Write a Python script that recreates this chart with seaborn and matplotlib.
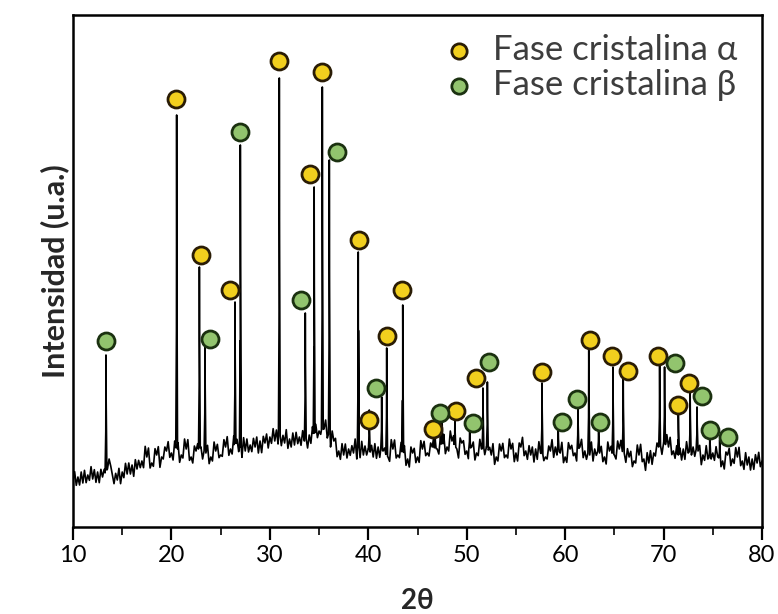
import numpy as np
import pandas as pd
import matplotlib
matplotlib.use("Agg")
import matplotlib.pyplot as plt
import seaborn as sns
from matplotlib.ticker import MultipleLocator

# ---- data ----
base_x = [10.0 + 0.5 * i for i in range(141)]
base_y = [46, 50, 44, 52, 48, 55, 50, 58, 52, 47, 55, 53, 62, 58, 66, 70, 64, 72, 70, 76,
          74, 80, 72, 78, 70, 76, 80, 74, 70, 76, 72, 80, 78, 84, 80, 76, 82, 80, 86, 84,
          90, 86, 92, 84, 88, 82, 90, 86, 92, 94, 96, 98, 92, 86, 76, 72, 78, 74, 80, 72,
          78, 70, 80, 76, 70, 78, 72, 76, 68, 74, 70, 78, 74, 80, 78, 84, 80, 86, 78, 84,
          76, 80, 74, 78, 80, 72, 70, 76, 72, 78, 74, 80, 76, 72, 78, 74, 70, 76, 80, 74,
          70, 78, 74, 80, 76, 72, 78, 74, 70, 76, 72, 78, 74, 70, 66, 72, 68, 64, 74, 80,
          84, 80, 76, 72, 78, 74, 80, 76, 72, 68, 74, 70, 66, 72, 68, 70, 66, 62, 68, 64, 66]
# high-frequency wiggle between baseline points (estimated, offsets at +1/3 and +2/3 step)
wig_a = [8, -6, 10, -4, 7, -9, 5, 12, -7, 9, -5, 8, -10, 6, -8, 11, -6, 9, -4, 10,
         -9, 7, -5, 12, -8, 6, -10, 9, -6, 8, -4, 11, -7, 5, -9, 10, -6, 8, -11, 7,
         -5, 9, -8, 12, -6, 10, -7, 5, -9, 8, -4, 11, -10, 6, -7, 9, -5, 12, -8, 7,
         -6, 10, -9, 5, -7, 11, -4, 8, -10, 6, -8, 9, -5, 12, -7, 10, -6, 8, -11, 5,
         -9, 7, -4, 10, -8, 12, -6, 9, -5, 7, -10, 11, -7, 6, -9, 8, -4, 10, -6, 12,
         -8, 5, -10, 9, -7, 11, -5, 8, -9, 6, -6, 10, -8, 7, -4, 12, -10, 9, -5, 8,
         -7, 11, -6, 5, -9, 10, -8, 7, -4, 12, -6, 9, -10, 8, -5, 11, -7, 6, -9, 10]
wig_b = [-7, 9, -5, 11, -8, 6, -10, 7, 5, -9, 10, -6, 8, -4, 12, -7, 9, -11, 6, -5,
         8, -10, 12, -6, 7, -9, 5, -8, 11, -4, 10, -7, 9, -6, 12, -5, 8, -10, 6, -9,
         11, -7, 5, -8, 10, -4, 9, -11, 7, -6, 12, -5, 8, -9, 10, -7, 6, -10, 11, -4,
         9, -8, 7, -6, 12, -5, 10, -9, 8, -7, 11, -4, 6, -10, 9, -8, 12, -5, 7, -6,
         10, -9, 11, -7, 5, -8, 9, -4, 12, -10, 6, -6, 8, -11, 10, -5, 7, -9, 11, -7,
         9, -4, 12, -8, 6, -10, 8, -6, 11, -5, 10, -9, 7, -7, 12, -4, 9, -8, 6, -10,
         11, -5, 8, -9, 10, -6, 7, -11, 12, -4, 9, -7, 5, -8, 10, -6, 11, -9, 7, -5]

peak_pos = [13.35, 20.53, 22.84, 23.41, 26.46, 27.0, 30.96, 33.6, 34.5, 35.33, 36.04,
            38.98, 40.1, 41.36, 41.87, 43.5, 46.8, 47.5, 48.8, 50.3, 51.65, 52.1, 57.65,
            59.3, 61.3, 62.4, 63.4, 64.86, 65.9, 69.6, 70.1, 71.5, 72.7, 73.4, 74.7, 75.7]
peak_top = [172, 412, 260, 184, 225, 382, 449, 214, 340, 440, 367,
            275, 117, 130, 179, 222, 90, 107, 107, 100, 139, 145, 144,
            97, 120, 177, 104, 160, 150, 165, 160, 114, 134, 120, 94, 87]

alpha_x = [20.46, 23.0, 25.95, 30.93, 34.08, 35.30, 39.06, 41.9, 40.07, 43.42,
           46.57, 48.91, 50.94, 57.65, 62.52, 64.76, 66.38, 69.43, 71.46, 72.58]
alpha_y = [428, 272, 237, 466, 353, 455, 287, 191, 107, 237,
           98, 116, 149, 155, 187, 171, 156, 171, 122, 144]

beta_x = [13.35, 23.92, 26.97, 33.16, 36.82, 40.78, 47.29, 50.64, 52.26, 59.68,
          61.2, 63.54, 71.16, 73.9, 74.71, 76.54]
beta_y = [186, 188, 395, 227, 375, 139, 114, 104, 165, 105,
          128, 105, 164, 131, 97, 90]

phase_labels = ["Fase cristalina α", "Fase cristalina β"]
xticks = [10, 20, 30, 40, 50, 60, 70, 80]

# ---- build pattern (baseline + wiggles + spikes) ----
xs = list(base_x)
ys = list(base_y)
for i in range(len(base_x) - 1):
    x0, x1 = base_x[i], base_x[i + 1]
    y0, y1 = base_y[i], base_y[i + 1]
    for frac, w in ((1 / 3, wig_a[i]), (2 / 3, wig_b[i])):
        xs.append(x0 + frac * (x1 - x0))
        ys.append(y0 + frac * (y1 - y0) + w)
for p, t in zip(peak_pos, peak_top):
    b_l = float(np.interp(p - 0.09, base_x, base_y))
    b_r = float(np.interp(p + 0.09, base_x, base_y))
    xs += [p - 0.09, p - 0.02, p, p + 0.02, p + 0.09]
    ys += [b_l, b_l + 0.35 * (t - b_l), t, b_r + 0.6 * (t - b_r), b_r]
order = np.argsort(xs, kind="stable")
px = np.array(xs)[order]
py = np.array(ys)[order]
keep = np.ones(len(px), dtype=bool)
for p in peak_pos:
    inside = (px > p - 0.09) & (px < p + 0.09)
    spike = np.isin(np.round(px, 6), np.round([p - 0.02, p, p + 0.02], 6))
    keep &= ~(inside & ~spike)
pattern = pd.DataFrame({"x": px[keep], "y": py[keep]})

markers = pd.DataFrame({
    "x": alpha_x + beta_x,
    "y": alpha_y + beta_y,
    "fase": [phase_labels[0]] * len(alpha_x) + [phase_labels[1]] * len(beta_x),
})

sns.set_theme(style="white")
plt.rcParams["font.family"] = ["Lato", "DejaVu Sans"]

fig = plt.figure(figsize=(7.78, 6.14), dpi=100)
ax = fig.add_axes([73 / 778, 87 / 614, (762 - 73) / 778, (527 - 15) / 614])

sns.lineplot(data=pattern, x="x", y="y", estimator=None, sort=False,
             color="black", linewidth=1.2, ax=ax)

palette = {phase_labels[0]: "#F2CF1E", phase_labels[1]: "#92C46E"}
edges = {phase_labels[0]: "#2A1C05", phase_labels[1]: "#1B3110"}
for lab in phase_labels:
    sub = markers[markers["fase"] == lab]
    sns.scatterplot(data=sub, x="x", y="y", color=palette[lab], edgecolor=edges[lab],
                    linewidth=2.0, s=150, ax=ax, label=lab, zorder=5)

ax.set_xlim(10, 80)
ax.set_ylim(0, 512)
ax.set_yticks([])
ax.set_xticks(xticks)
ax.xaxis.set_minor_locator(MultipleLocator(5))
ax.tick_params(axis="x", which="major", direction="out", length=9, width=1.6,
               labelsize=17, pad=4, bottom=True, colors="black")
ax.tick_params(axis="x", which="minor", direction="out", length=6, width=1.4, bottom=True)
for s in ax.spines.values():
    s.set_color("black")
    s.set_linewidth(1.8)

ax.set_xlabel("2θ", fontsize=20, fontweight="bold", labelpad=16)
ax.set_ylabel("Intensidad (u.a.)", fontsize=22, fontweight="bold", labelpad=3)

leg = ax.legend(loc="upper right", frameon=False, fontsize=25, handletextpad=0.5,
                borderaxespad=0.0, labelspacing=0.08, markerscale=0.9,
                handlelength=1.0, bbox_to_anchor=(0.985, 0.99))
for t in leg.get_texts():
    t.set_color("#3d3d3d")

fig.savefig("out.png", dpi=100)
